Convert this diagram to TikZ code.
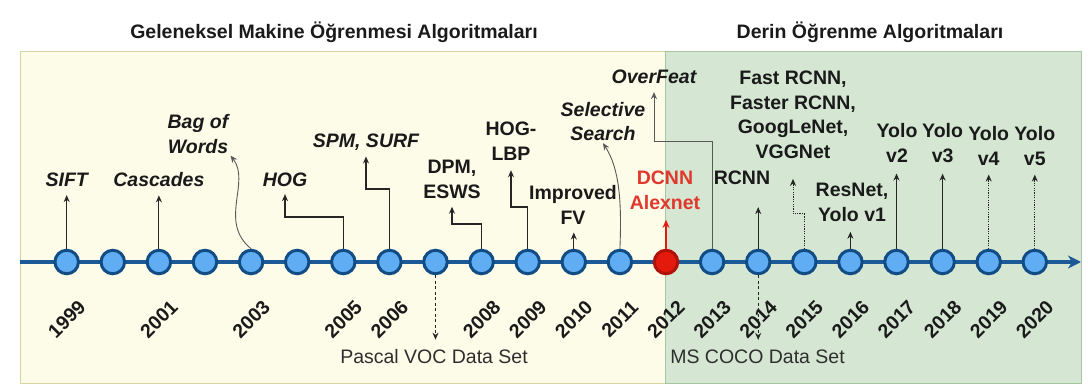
\documentclass[tikz,border=0pt]{standalone}
\usepackage{fontspec}
\setmainfont{Liberation Sans}
\usetikzlibrary{arrows.meta}
\definecolor{panelY}{HTML}{FDFCE8}
\definecolor{panelYb}{HTML}{D8D5A5}
\definecolor{panelG}{HTML}{D5E7D3}
\definecolor{panelGb}{HTML}{A8C5A3}
\definecolor{tline}{HTML}{1B5A96}
\definecolor{cfill}{HTML}{60ADF3}
\definecolor{cdraw}{HTML}{114C84}
\definecolor{rfill}{HTML}{E31A0C}
\definecolor{rdraw}{HTML}{B01208}
\definecolor{rtext}{HTML}{E0382D}
\definecolor{txt}{HTML}{1A1A1A}
\definecolor{gtxt}{HTML}{2E2E2E}
\begin{document}
\begin{tikzpicture}[x=1pt,y=-1pt,
  ttl/.style={font=\fontsize{19.5}{24.5}\selectfont\bfseries, text=txt, inner sep=2pt},
  lbl/.style={font=\fontsize{19.5}{24.5}\selectfont\bfseries, align=center, inner sep=2pt, text=txt},
  ilbl/.style={lbl, font=\fontsize{19.5}{24.5}\selectfont\bfseries\itshape},
  ds/.style={font=\fontsize{19.5}{24.5}\selectfont, inner sep=2pt, text=gtxt},
  yr/.style={font=\fontsize{19.5}{21}\selectfont\bfseries, rotate=45, inner sep=0pt, text=txt},
  dot/.style={circle, minimum size=23.5pt, inner sep=0pt, line width=3pt, draw=cdraw, fill=cfill},
  rdot/.style={dot, draw=rdraw, fill=rfill},
  arr/.style={-{Stealth[length=7pt,width=6pt]}, line width=1.1pt, draw=black!85},
  garr/.style={arr, draw=black!65, line width=0.9pt},
  dotarr/.style={arr, dash pattern=on 1.2pt off 1.2pt, line width=1pt},
  dasharr/.style={arr, dash pattern=on 3pt off 2.5pt, line width=1pt},
  rarr/.style={-{Stealth[length=8pt,width=7pt]}, line width=2pt, draw=rfill},
  tl/.style={-{Stealth[length=13pt,width=13pt,inset=4pt]}, line width=4.5pt, draw=tline}
]
\useasboundingbox (0,0) rectangle (1088,385);
\fill[white] (0,0) rectangle (1088,385);
% panels
\draw[fill=panelY, draw=panelYb, line width=1pt] (20,52) rectangle (665,383);
\draw[fill=panelG, draw=panelGb, line width=1pt] (665,52) rectangle (1081,383);
% titles
\node[ttl] (t1) at (334,32) {Geleneksel Makine Öğrenmesi Algoritmaları};
\node[ttl] (t2) at (870,32) {Derin Öğrenme Algoritmaları};
% timeline
\coordinate (tls) at (20,262);
\coordinate (tle) at (1081,262);
\draw[tl] (tls) -- (tle);
% circles
\foreach \yr/\x in {1999/66.7, 2000/112.8, 2001/158.9, 2002/205.0, 2003/251.1, 2004/297.2,
  2005/343.3, 2006/389.4, 2007/435.5, 2008/481.6, 2009/527.7, 2010/573.8, 2011/619.9,
  2013/712.1, 2014/758.2, 2015/804.3, 2016/850.4, 2017/896.5, 2018/942.6, 2019/988.7, 2020/1034.8}
  \node[dot] (c\yr) at (\x,262) {};
\node[rdot] (c2012) at (666.0,262) {};
% year labels
\foreach \yr/\x in {1999/66.7, 2001/158.9, 2003/251.1, 2005/343.3, 2006/389.4, 2008/481.6,
  2009/527.7, 2010/573.8, 2011/619.9, 2012/666.0, 2013/712.1, 2014/758.2, 2015/804.3,
  2016/850.4, 2017/896.5, 2018/942.6, 2019/988.7, 2020/1034.8}
  \node[yr] (y\yr) at (\x,319) {\yr};
% labels
\node[ilbl] (sift) at (66.7,180) {SIFT};
\node[ilbl] (casc) at (158.9,180) {Cascades};
\node[ilbl] (bow) at (198,134) {Bag of\\Words};
\node[ilbl] (hog) at (285,180) {HOG};
\node[ilbl] (spm) at (366,142) {SPM, SURF};
\node[lbl] (dpm) at (452,179.5) {DPM,\\ESWS};
\node[lbl] (hoglbp) at (511,141) {HOG-\\LBP};
\node[lbl] (ifv) at (573,205) {Improved\\FV};
\node[ilbl] (sels) at (603,121.5) {Selective\\Search};
\node[ilbl] (ovf) at (654,77) {OverFeat};
\node[lbl, text=rtext] (dcnn) at (665,190.5) {DCNN\\Alexnet};
\node[lbl] (rcnn) at (742,178) {RCNN};
\node[lbl] (frc) at (793,115) {Fast RCNN,\\Faster RCNN,\\GoogLeNet,\\VGGNet};
\node[lbl] (res) at (852,202.5) {ResNet,\\Yolo v1};
\node[lbl] (yv2) at (897,143) {Yolo\\v2};
\node[lbl] (yv3) at (942.6,143) {Yolo\\v3};
\node[lbl] (yv4) at (988.7,146) {Yolo\\v4};
\node[lbl] (yv5) at (1034.8,146) {Yolo\\v5};
\node[ds] (pvoc) at (434,357) {Pascal VOC Data Set};
\node[ds] (coco) at (757.5,357) {MS COCO Data Set};
% connectors
\draw[arr, shorten >=6pt] (c1999.north) -- (c1999.north |- sift.south);
\draw[arr, shorten >=6pt] (c2001.north) -- (c2001.north |- casc.south);
\draw[garr] (c2003.north) .. controls (218,222) and (251,182) .. (bow.south east);
\draw[arr, shorten >=5pt] (c2005.north) -- (c2005.north |- 0,217) -| (hog.south);
\draw[arr, shorten >=4pt] (c2006.north) -- (c2006.north |- 0,189) -| (spm.south);
\draw[arr, shorten >=6pt] (c2008.north) -- (c2008.north |- 0,224) -| (dpm.south);
\draw[arr, shorten >=8pt] (c2009.north) -- (c2009.north |- 0,207) -| (hoglbp.south);
\draw[arr, shorten >=6pt] (c2010.north) -- (c2010.north |- ifv.south);
\draw[garr] (c2011.north) .. controls (622,200) and (619,168) .. (sels.south);
\draw[garr, shorten >=6pt] (c2013.north) -- (c2013.north |- 0,141) -| (ovf.south);
\draw[rarr, shorten >=8pt] (c2012.north) -- (c2012.north |- dcnn.south);
\draw[arr, shorten >=20pt] (c2014.north) -- (c2014.north |- rcnn.south);
\draw[dotarr, shorten >=18pt] (c2015.north) -- (c2015.north |- 0,214) -| (frc.south);
\draw[arr, shorten >=8pt] (c2016.north) -- (c2016.north |- res.south);
\draw[arr, shorten >=9pt] (c2017.north) -- (c2017.north |- yv2.south);
\draw[arr, shorten >=9pt] (c2018.north) -- (c2018.north |- yv3.south);
\draw[dotarr, shorten >=7pt] (c2019.north) -- (c2019.north |- yv4.south);
\draw[dotarr, shorten >=7pt] (c2020.north) -- (c2020.north |- yv5.south);
\draw[dasharr, shorten >=8pt] (c2007.south) -- (c2007.south |- pvoc.north);
\draw[dasharr, shorten >=8pt] (c2014.south) -- (c2014.south |- coco.north);
\end{tikzpicture}
\end{document}
